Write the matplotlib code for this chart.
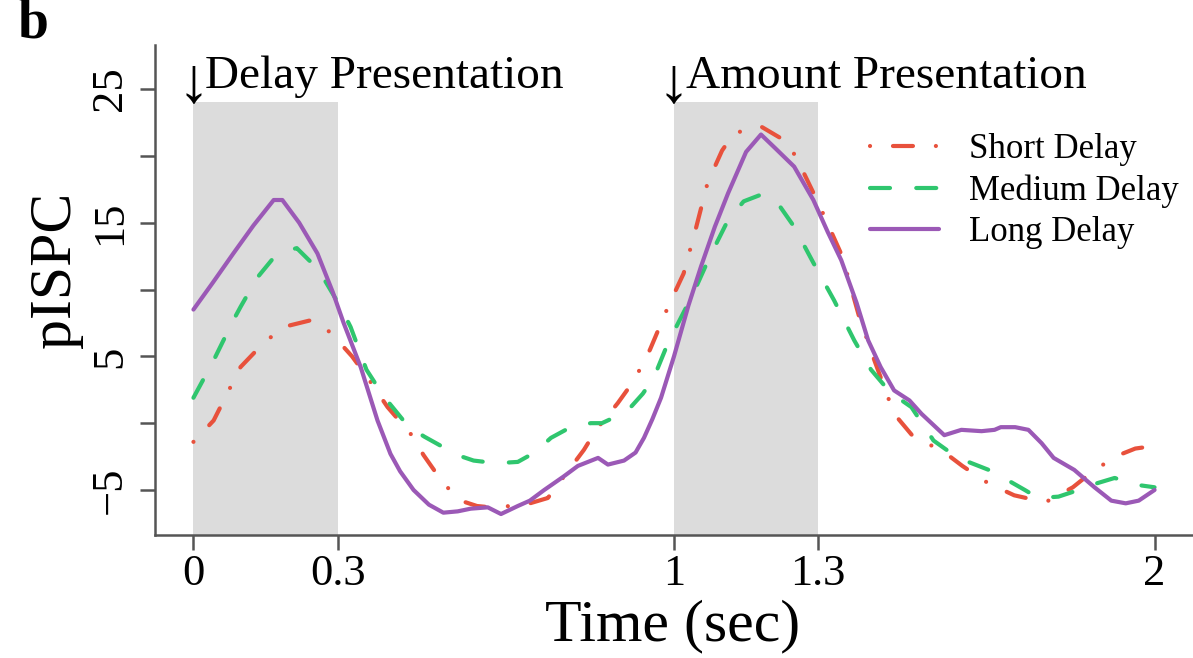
import numpy as np
import matplotlib.pyplot as plt

# pISPC time courses for the three delay conditions
t_short = [0.0, 0.042, 0.098, 0.146, 0.1875, 0.244, 0.27, 0.3, 0.33, 0.3625, 0.404, 0.452, 0.479,
           0.52, 0.556, 0.59, 0.619, 0.66, 0.7, 0.7375, 0.775, 0.8125, 0.84, 0.883, 0.917, 0.95,
           0.9875, 1.02, 1.045, 1.07, 1.1, 1.125, 1.181, 1.2375, 1.265, 1.3, 1.35, 1.385, 1.417,
           1.458, 1.5, 1.556, 1.6, 1.654, 1.708, 1.745, 1.779, 1.83, 1.875, 1.925, 1.96, 2.0]
y_short = [-1.4, 0.2, 4.2, 6.0, 7.2, 7.7, 7.3, 6.2, 5.0, 3.4, 1.2, -0.8, -2.4,
           -4.5, -5.8, -6.2, -6.3, -6.2, -6.0, -5.6, -3.8, -2.0, -0.4, 1.5, 3.2, 5.5,
           8.7, 11.2, 14.5, 18.0, 20.4, 21.7, 22.2, 21.0, 19.1, 16.5, 12.5, 8.0, 4.7,
           0.7, -1.1, -2.0, -3.2, -4.5, -5.4, -5.7, -5.8, -4.8, -3.5, -2.4, -1.9, -1.7]

t_medium = [0.0, 0.042, 0.083, 0.098, 0.133, 0.165, 0.196, 0.215, 0.26, 0.306, 0.327, 0.36, 0.396,
            0.446, 0.48, 0.515, 0.55, 0.583, 0.63, 0.675, 0.71, 0.744, 0.79, 0.827, 0.85, 0.88,
            0.91, 0.935, 0.958, 0.9875, 1.04, 1.075, 1.1125, 1.145, 1.181, 1.215, 1.25, 1.29,
            1.333, 1.375, 1.41, 1.45, 1.494, 1.54, 1.575, 1.6125, 1.655, 1.696, 1.73, 1.758,
            1.8, 1.842, 1.88, 1.917, 1.96, 2.0]
y_medium = [1.9, 4.7, 7.7, 8.7, 10.9, 12.3, 12.9, 13.1, 11.5, 8.7, 7.2, 4.0, 2.0,
            -0.2, -1.0, -1.7, -2.4, -2.8, -3.0, -2.9, -2.2, -1.1, -0.2, 0.0, 0.0, 0.5,
            1.2, 2.2, 3.4, 6.0, 9.7, 12.5, 15.2, 16.6, 17.1, 16.5, 14.7, 12.0,
            9.2, 6.2, 4.0, 2.3, 1.2, -1.3, -2.2, -2.9, -3.5, -4.3, -5.0, -5.6,
            -5.5, -5.0, -4.5, -4.1, -4.6, -4.8]

t_long = [0.0, 0.04, 0.083, 0.125, 0.167, 0.185, 0.22, 0.258, 0.29, 0.3125, 0.348, 0.383, 0.41,
          0.43, 0.458, 0.49, 0.52, 0.55, 0.577, 0.6125, 0.64, 0.675, 0.7, 0.73, 0.77, 0.8,
          0.842, 0.8625, 0.896, 0.92, 0.9375, 0.955, 0.973, 1.0, 1.03, 1.056, 1.085, 1.1125,
          1.15, 1.181, 1.21, 1.25, 1.29, 1.32, 1.348, 1.38, 1.404, 1.43, 1.458, 1.49, 1.515,
          1.5625, 1.598, 1.64, 1.667, 1.68, 1.71, 1.7375, 1.765, 1.79, 1.833, 1.875, 1.91,
          1.94, 1.967, 2.0]
y_long = [8.5, 10.5, 12.7, 14.8, 16.7, 16.7, 15.0, 12.7, 9.8, 7.5, 4.2, 0.2, -2.3,
          -3.6, -5.0, -6.1, -6.7, -6.6, -6.4, -6.3, -6.8, -6.2, -5.8, -5.0, -4.0, -3.2,
          -2.6, -3.1, -2.8, -2.2, -1.1, 0.3, 1.9, 5.0, 8.8, 11.7, 14.7, 17.2,
          20.3, 21.6, 20.6, 19.2, 16.7, 14.3, 12.2, 9.0, 6.2, 4.2, 2.45, 1.7, 0.7,
          -0.9, -0.5, -0.6, -0.5, -0.3, -0.3, -0.5, -1.5, -2.6, -3.5, -4.8, -5.8,
          -6.0, -5.8, -5.0]

# stimulus windows (sec)
windows = [(0.0, 0.3), (1.0, 1.3)]
window_labels = ["Delay Presentation", "Amount Presentation"]
xticks = [0, 0.3, 1, 1.3, 2]
xtick_labels = ["0", "0.3", "1", "1.3", "2"]
yticks = [-5, 0, 5, 10, 15, 20, 25]
ytick_labels = ["\u22125", "", "5", "", "15", "", "25"]

plt.rcParams['font.family'] = ['Liberation Serif', 'DejaVu Serif']

W, H = 1193, 658
fig = plt.figure(figsize=(W / 100, H / 100), dpi=100)
ax = fig.add_axes([155 / W, 1 - 535 / H, 1038 / W, 490 / H])
ax.set_xlim(-0.08, 2.08)
ax.set_ylim(-8.37, 28.3)

# grey stimulus bands
for (a, b) in windows:
    ax.fill_between([a, b], -8.37, 24, color="#dcdcdc", lw=0, zorder=0)

ax.plot(t_short, y_short, color="#e8513c", lw=3, dashes=(0.01, 5.5, 4.8, 5.5),
        dash_capstyle="round", label="Short Delay")
ax.plot(t_medium, y_medium, color="#2fc66e", lw=3, dashes=(4.8, 6.3),
        dash_capstyle="round", label="Medium Delay")
ax.plot(t_long, y_long, color="#9b59b6", lw=3, solid_capstyle="round",
        label="Long Delay")

# stimulus onset arrows and labels
for (a, b), lab in zip(windows, window_labels):
    ax.text(a, 24.1, "\u2193", fontsize=46, ha="center", va="baseline")
    ax.text(a + 0.025, 25.1, lab, fontsize=34, ha="left", va="baseline")

# axes in R "L" style
for s in ["top", "right"]:
    ax.spines[s].set_visible(False)
for s in ["left", "bottom"]:
    ax.spines[s].set_color("#555555")
    ax.spines[s].set_linewidth(1.8)
ax.tick_params(length=11, width=1.8, color="#555555", labelsize=32)
ax.tick_params(axis="x", pad=3)
ax.tick_params(axis="y", pad=7)
ax.set_xticks(xticks)
ax.set_xticklabels(xtick_labels)
ax.set_yticks(yticks)
ax.set_yticklabels(ytick_labels, rotation=90, va="center")

fig.text(673 / W, 1 - 640 / H, "Time (sec)", fontsize=43, ha="center", va="baseline")
fig.text(56 / W, 1 - 270 / H, "pISPC", fontsize=43, rotation=90, ha="center", va="center")
fig.text(17 / W, 1 - 38 / H, "b", fontsize=40, fontweight="bold", ha="left", va="baseline")

ax.legend(loc="upper left", bbox_to_anchor=(870 / W, 1 - 133 / H), bbox_transform=fig.transFigure,
          frameon=False, fontsize=25, handlelength=2.0, handletextpad=0.85,
          labelspacing=0.24, borderpad=0, borderaxespad=0)

plt.savefig("out.png", dpi=100)
